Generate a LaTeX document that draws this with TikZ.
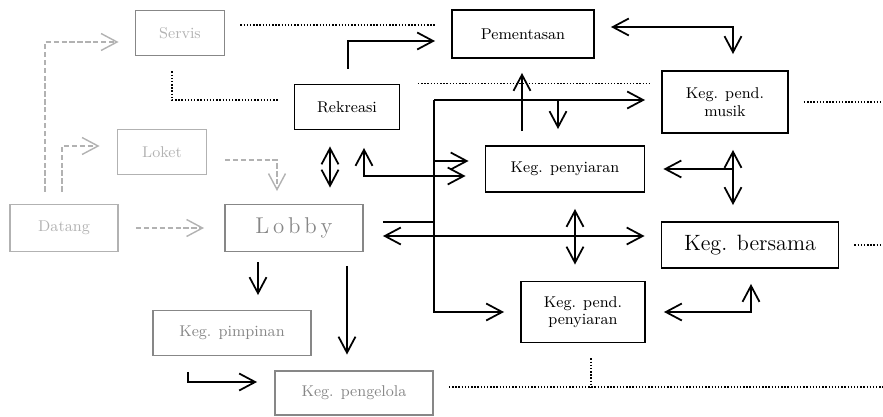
\documentclass[tikz,border=0pt]{standalone}
\usepackage{tikz}
\definecolor{dgfaint}{RGB}{178,178,178}
\definecolor{dgmid}{RGB}{135,135,135}
\usetikzlibrary{arrows.meta,calc}

\begin{document}
\begin{tikzpicture}[x=0.2mm,y=-0.2mm,
  ruang/.style 2 args={draw,line width=1.1pt,minimum width=#1,minimum height=#2,
    inner sep=1pt,align=center,font=\fontsize{8.9}{10}\selectfont},
  arr/.style={-{Straight Barb[length=3.2mm,width=3.4mm]},line width=1pt,
    shorten >=3.2mm,shorten <=3.2mm},
  arrb/.style={{Straight Barb[length=3.2mm,width=3.4mm]}-{Straight Barb[length=3.2mm,width=3.4mm]},
    line width=1pt,shorten >=3.2mm,shorten <=3.2mm},
  garis/.style={line width=1pt},
  samar/.style={arr,dgfaint,line width=0.8pt,dash pattern=on 3pt off 1.5pt},
  titik/.style={line width=0.6pt,dash pattern=on 0.8pt off 1pt,shorten >=3mm,shorten <=3mm}
]
  \useasboundingbox (0,0) rectangle (883,416);

  % Ruang-ruang
  \node[ruang={17.8mm}{9mm},draw=dgmid,text=dgfaint] (servis) at (180,33) {Servis};
  \node[ruang={28.4mm}{9.6mm}] (pement) at (523,34) {Pementasan};
  \node[ruang={21mm}{9mm}] (rekreasi) at (347,107) {Rekreasi};
  \node[ruang={17.8mm}{9mm},draw=dgfaint,text=dgfaint] (loket) at (162,152) {Loket};
  \node[ruang={25.2mm}{12.4mm}] (musik) at (725,102) {Keg. pend.\\musik};
  \node[ruang={31.8mm}{9.2mm}] (penyiaran) at (565,169) {Keg. penyiaran};
  \node[ruang={21.6mm}{9.4mm},draw=dgfaint,text=dgfaint] (datang) at (64,228) {Datang};
  \node[ruang={27.6mm}{9.4mm},draw=dgmid,text=dgmid,font=\fontsize{13}{15}\selectfont] (lobby) at (294,228) {L\,o\,b\,b\,y};
  \node[ruang={35.4mm}{9.2mm},font=\fontsize{12.6}{15}\selectfont] (bersama) at (750,245) {Keg. bersama};
  \node[ruang={24.8mm}{12.2mm}] (pendpeny) at (583,312) {Keg. pend.\\penyiaran};
  \node[ruang={31.6mm}{9mm},draw=dgmid,text=dgmid] (pimpinan) at (232,333) {Keg. pimpinan};
  \node[ruang={31.6mm}{8.8mm},draw=dgmid,text=dgmid] (pengelola) at (354,393) {Keg. pengelola};

  \coordinate (busA) at (434,100);
  \coordinate (ujungA) at (883,102);
  \coordinate (ujungB) at (883,245);
  \coordinate (ujungC) at (883,387);
  \coordinate (temu) at (591,387);

  % Alur masuk
  \draw[samar,shorten <=2.4mm] (45,0 |- datang.north) |- (servis.west |- 0,42);
  \draw[samar,shorten <=2.4mm,shorten >=3.4mm] (62,0 |- datang.north) |- (loket.west |- 0,146);
  \draw[samar,shorten <=3.4mm,shorten >=4mm] (datang) -- (lobby);
  \draw[samar,shorten <=3.5mm,shorten >=2.5mm] (loket.east |- 0,160) -| (277,0 |- lobby.north);

  % Garis titik
  \draw[titik] (servis.east |- 0,25) -- (pement.west |- 0,25);
  \draw[titik] (172,0 |- servis.south) |- (rekreasi.west |- 0,100);
  \draw[titik,shorten <=3.5mm,shorten >=2.4mm] (rekreasi.north east) -- (musik.west |- rekreasi.north east);
  \draw[titik,shorten >=0pt] (musik.east) -- (ujungA);
  \draw[titik,shorten >=0pt] (bersama.east) -- (ujungB);
  \draw[titik,shorten >=0pt] (pengelola.east |- temu) -- (ujungC);
  \draw[titik,shorten >=0pt] (temu |- pendpeny.south) -- (temu);

  % Rekreasi dan pementasan
  \draw[arr,shorten <=3mm] (348,0 |- rekreasi.north) |- (pement.west |- 0,41);
  \draw[arrb] (pement.east |- 0,27) -| (733,0 |- musik.north);
  \draw[arr,shorten <=2.8mm,shorten >=2.8mm] (522,0 |- penyiaran.north) -- (522,0 |- pement.south);

  % Jalur utama
  \draw[arr,shorten <=0pt] (busA) -- (musik.west |- busA);
  \draw[arr,shorten <=0pt] (busA) |- (pendpeny.west);
  \draw[arr,shorten <=0pt] (busA |- 0,161) -- (penyiaran.west |- 0,161);
  \draw[arr,shorten <=0pt] (558,0 |- busA) -- (558,0 |- penyiaran.north);
  \draw[garis,shorten <=3.8mm] (lobby.east |- 0,222) -- (busA |- 0,222);
  \draw[arrb,shorten <=3.8mm] (lobby.east |- 0,236) -- (bersama.west |- 0,236);
  \draw[arrb] (330,0 |- rekreasi.south) -- (330,0 |- lobby.north);
  \draw[arrb,shorten <=3.5mm,shorten >=3.8mm] (364,0 |- rekreasi.south) |- (penyiaran.west |- 0,176);

  % Sisi kanan
  \draw[arrb] (733,0 |- musik.south) -- (733,0 |- bersama.north);
  \draw[arr,shorten <=0pt,shorten >=3.6mm] (733,0 |- penyiaran.east) -- (penyiaran.east);
  \draw[arrb] (575,0 |- penyiaran.south) -- (575,0 |- pendpeny.north);
  \draw[arrb,shorten <=3.6mm,shorten >=3mm] (pendpeny.east) -| (751,0 |- bersama.south);

  % Pengelola
  \draw[arr,shorten <=2mm,shorten >=2.9mm] (258,0 |- lobby.south) -- (258,0 |- pimpinan.north);
  \draw[arr,shorten <=2.7mm,shorten >=3.1mm] (347,0 |- lobby.south) -- (347,0 |- pengelola.north);
  \draw[arr,shorten <=3.1mm,shorten >=3.4mm] (188,0 |- pimpinan.south) |- (pengelola.west |- 0,382);
\end{tikzpicture}
\end{document}
